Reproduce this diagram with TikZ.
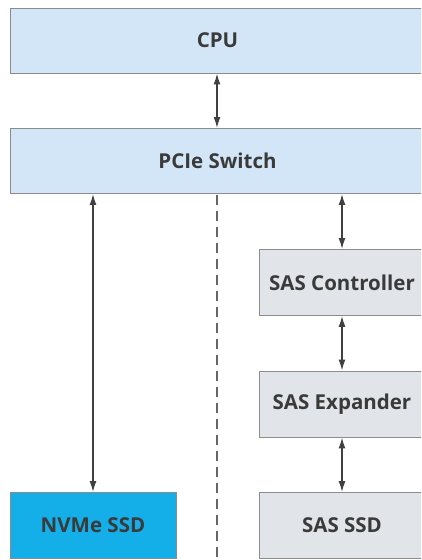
\documentclass[tikz,border=0pt]{standalone}
\usepackage{fontspec}
\setmainfont{Open Sans}
\usetikzlibrary{arrows.meta}
\definecolor{boxblue}{HTML}{D3E6F8}
\definecolor{boxgray}{HTML}{E1E4E8}
\definecolor{nvme}{HTML}{14AEE8}
\definecolor{edge}{HTML}{8C8C8C}
\definecolor{txt}{HTML}{3A3A3A}
\definecolor{arr}{HTML}{404040}
\definecolor{dash}{HTML}{666666}
\tikzset{
  blk/.style={draw=edge, line width=0.9pt, inner sep=0pt, font=\fontsize{20.5}{24}\selectfont\bfseries, text=txt},
  bluebox/.style={blk, fill=boxblue, minimum width=415pt, minimum height=65pt},
  graybox/.style={blk, fill=boxgray, minimum width=166pt, minimum height=66pt},
  nvmebox/.style={blk, fill=nvme, minimum width=166pt, minimum height=66pt},
  link/.style={draw=arr, line width=1.5pt, {Latex[length=11pt,width=7pt]}-{Latex[length=11pt,width=7pt]}},
  sep/.style={draw=dash, line width=1.1pt, dash pattern=on 10pt off 6pt}
}
\begin{document}
\begin{tikzpicture}[x=1pt,y=-1pt]
\useasboundingbox (0,0) rectangle (421,560);
\clip (0,0) rectangle (421,560);
\node[bluebox] (cpu) at (217.5,40.5) {CPU};
\node[bluebox] (pcie) at (217.5,161) {PCIe Switch};
\node[graybox] (ctrl) at (342,282.5) {SAS Controller};
\node[graybox] (exp) at (342,404) {SAS Expander};
\node[graybox] (sasssd) at (342,525.5) {SAS SSD};
\node[nvmebox] (nvme) at (93,525.5) {NVMe SSD};
\coordinate (dtop) at (217,194.5);
\coordinate (dbot) at (217,562);
\draw[sep] (dtop) -- (dbot);
\draw[link] (cpu.south -| 217,0) -- (pcie.north -| 217,0);
\draw[link] (pcie.south -| ctrl) -- (ctrl.north);
\draw[link] (ctrl) -- (exp);
\draw[link] (exp.south) -- (sasssd.north);
\draw[link] (pcie.south -| nvme) -- (nvme.north);
\end{tikzpicture}
\end{document}
